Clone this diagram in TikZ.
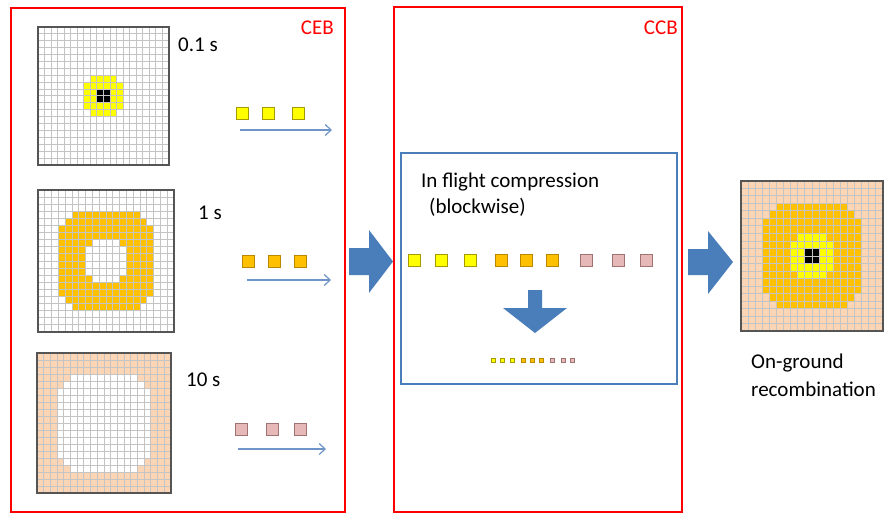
\documentclass[tikz,border=0pt]{standalone}
\usepackage{fontspec}
\setmainfont{Carlito}
\usetikzlibrary{arrows.meta}
\definecolor{cyel}{RGB}{255,255,0}
\definecolor{cyelb}{RGB}{165,155,0}
\definecolor{corg}{RGB}{255,192,0}
\definecolor{corgb}{RGB}{185,135,0}
\definecolor{cpink}{RGB}{230,185,184}
\definecolor{cpinkb}{RGB}{160,115,115}
\definecolor{cpeach}{RGB}{252,213,181}
\definecolor{cblue}{RGB}{74,126,187}
\definecolor{carrow}{RGB}{110,148,200}
\definecolor{cgrid}{RGB}{196,196,196}
\definecolor{cframe}{RGB}{85,85,85}
\newcommand\octafill[1]{\fill[#1] (3,5) rectangle (17,15); \fill[#1] (4,4) rectangle (16,16); \fill[#1] (5,3) rectangle (15,17);}
\newcommand\innerfill[1]{\fill[#1] (7,8) rectangle (13,12); \fill[#1] (8,7) rectangle (12,13);}
\newcommand\blackfill{\fill[black] (9,9) rectangle (11,11);}
\newcommand\gridlines{\foreach \i in {0,...,20} {\draw[gridline] (\i,0) -- (\i,20); \draw[gridline] (0,\i) -- (20,\i);} \draw[gridframe] (0,0) rectangle (20,20);}
\begin{document}
\begin{tikzpicture}[x=1pt,y=-1pt,
  gridline/.style={draw=cgrid, line width=1pt},
  gridframe/.style={draw=cframe, line width=1.4pt},
  sq/.style={draw, line width=0.8pt, minimum size=12pt, inner sep=0pt},
  ysq/.style={sq, fill=cyel, draw=cyelb},
  osq/.style={sq, fill=corg, draw=corgb},
  psq/.style={sq, fill=cpink, draw=cpinkb},
  tsq/.style={draw, line width=0.6pt, minimum size=4pt, inner sep=0pt},
  tys/.style={tsq, fill=cyel, draw=cyelb},
  tos/.style={tsq, fill=corg, draw=corgb},
  tps/.style={tsq, fill=cpink, draw=cpinkb},
  lbl/.style={font=\fontsize{21}{25}\selectfont, inner sep=0pt, anchor=base west},
  redlbl/.style={lbl, text=red, anchor=base east},
  redbox/.style={draw=red, line width=2pt},
  bluebox/.style={draw=cblue, line width=2pt},
  thinarrow/.style={draw=carrow, line width=1.2pt, -{Straight Barb[length=6pt,width=11pt]}},
  bigarrow/.style={fill=cblue},
]
\useasboundingbox (0,0) rectangle (886,513);
\fill[white] (0,0) rectangle (886,513);

% containers
\draw[redbox] (11,8) rectangle (345,511.5);
\draw[redbox] (394,7) rectangle (682,511.5);
\draw[bluebox] (401,153) rectangle (677,384);

% grid 1 (0.1 s)
\begin{scope}[shift={(38,27)}, xscale=6.55, yscale=6.9]
  \innerfill{cyel}
  \blackfill
  \gridlines
\end{scope}
% grid 2 (1 s)
\begin{scope}[shift={(38,190)}, xscale=6.8, yscale=7.1]
  \octafill{corg}
  \innerfill{white}
  \gridlines
\end{scope}
% grid 3 (10 s)
\begin{scope}[shift={(37,353)}, xscale=6.7, yscale=7.0]
  \fill[cpeach] (0,0) rectangle (20,20);
  \octafill{white}
  \gridlines
\end{scope}
% grid 4 (recombination)
\begin{scope}[shift={(741,181)}, xscale=7.1, yscale=7.5]
  \fill[cpeach] (0,0) rectangle (20,20);
  \octafill{corg}
  \innerfill{cyel}
  \blackfill
  \gridlines
\end{scope}

% labels
\node[lbl] (t01) at (178,52) {0.1 s};
\node[lbl] (t1) at (198,219) {1 s};
\node[lbl] (t10) at (186,386) {10 s};
\node[redlbl] (ceb) at (334,35) {CEB};
\node[redlbl] (ccb) at (678,35) {CCB};
\node[lbl] (ifc) at (421,188) {In flight compression};
\node[lbl] (bw) at (429,214) {(blockwise)};
\node[lbl] (og) at (751,368) {On-ground};
\node[lbl] (rc) at (751,396) {recombination};

% left packets
\node[ysq] (a1) at (242.5,113.5) {};
\node[ysq] (a2) at (268.5,113.5) {};
\node[ysq] (a3) at (298,113.5) {};
\node[osq] (b1) at (248.5,261.5) {};
\node[osq] (b2) at (274.5,261.5) {};
\node[osq] (b3) at (300,261.5) {};
\node[psq] (c1) at (241,429.5) {};
\node[psq] (c2) at (272,429.5) {};
\node[psq] (c3) at (300,429.5) {};

\coordinate (as) at (240,130); \coordinate (ae) at (332,130);
\coordinate (bs) at (247,280); \coordinate (be) at (331,280);
\coordinate (cs) at (238,449); \coordinate (ce) at (326,449);
\draw[thinarrow] (as) -- (ae);
\draw[thinarrow] (bs) -- (be);
\draw[thinarrow] (cs) -- (ce);

% packets in CCB
\node[ysq] (m1) at (414,260.5) {};
\node[ysq] (m2) at (441,260.5) {};
\node[ysq] (m3) at (470,260.5) {};
\node[osq] (m4) at (501,260.5) {};
\node[osq] (m5) at (526,260.5) {};
\node[osq] (m6) at (552,260.5) {};
\node[psq] (m7) at (586,260.5) {};
\node[psq] (m8) at (618,260.5) {};
\node[psq] (m9) at (646,260.5) {};

% compressed packets
\node[tys] (s1) at (493.5,360.5) {};
\node[tys] (s2) at (502.5,360.5) {};
\node[tys] (s3) at (512.5,360.5) {};
\node[tos] (s4) at (523.5,360.5) {};
\node[tos] (s5) at (532.5,360.5) {};
\node[tos] (s6) at (541.5,360.5) {};
\node[tps] (s7) at (552.5,360.5) {};
\node[tps] (s8) at (563.5,360.5) {};
\node[tps] (s9) at (572.5,360.5) {};

% big arrows
\fill[bigarrow] (349,248) -- (369,248) -- (369,230) -- (393,261.5) -- (369,293) -- (369,275) -- (349,275) -- cycle;
\fill[bigarrow] (688,249) -- (708,249) -- (708,231) -- (733,262) -- (708,294) -- (708,275) -- (688,275) -- cycle;
\fill[bigarrow] (528,290) -- (542,290) -- (542,308) -- (567,308) -- (535,333) -- (503,308) -- (528,308) -- cycle;
\end{tikzpicture}
\end{document}
